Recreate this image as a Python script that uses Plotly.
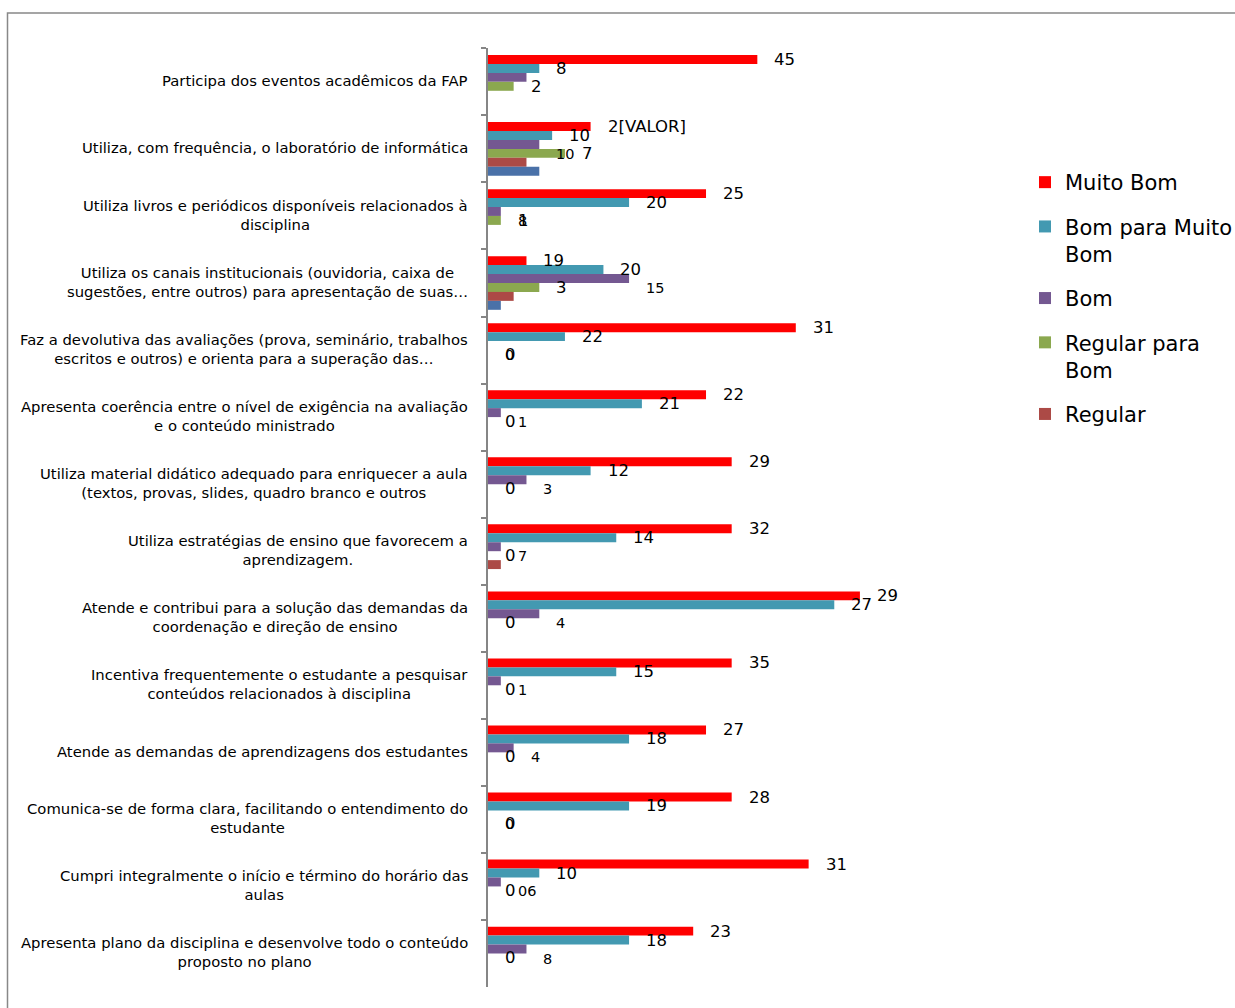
import plotly.graph_objects as go

# ---------------- data ----------------
categories = [
    "Participa dos eventos acadêmicos da FAP",
    "Utiliza, com frequência, o laboratório de informática",
    "Utiliza livros e periódicos disponíveis relacionados à<br>disciplina",
    "Utiliza os canais institucionais (ouvidoria, caixa de<br>sugestões, entre outros) para apresentação de suas…",
    "Faz a devolutiva das avaliações (prova, seminário, trabalhos<br>escritos e outros) e orienta para a superação das…",
    "Apresenta coerência entre o nível de exigência na avaliação<br>e o conteúdo ministrado",
    "Utiliza material didático adequado para enriquecer a aula<br>(textos, provas, slides, quadro branco e outros",
    "Utiliza estratégias de ensino que favorecem a<br>aprendizagem.",
    "Atende e contribui para a solução das demandas da<br>coordenação e direção de ensino",
    "Incentiva frequentemente o estudante a pesquisar<br>conteúdos relacionados à disciplina",
    "Atende as demandas de aprendizagens dos estudantes",
    "Comunica-se de forma clara, facilitando o entendimento do<br>estudante",
    "Cumpri integralmente o início e término do horário das<br>aulas",
    "Apresenta plano da disciplina e desenvolve todo o conteúdo<br>proposto no plano",
]

series_names = ["Muito Bom", "Bom para Muito<br>Bom", "Bom", "Regular para<br>Bom", "Regular", "Série 6"]
series_colors = ["#FF0000", "#4399B1", "#745891", "#8BA84F", "#AC4A46", "#4A71A8"]

muito_bom        = [21, 8, 17, 3, 24, 17, 19, 19, 29, 19, 17, 19, 25, 16]
bom_muito_bom    = [4, 5, 11, 9, 6, 12, 8, 10, 27, 10, 11, 11, 4, 11]
bom              = [3, 4, 1, 11, 0, 1, 3, 1, 4, 1, 2, 0, 1, 3]
regular_bom      = [2, 6, 1, 4, 0, 0, 0, 0, 0, 0, 0, 0, 0, 0]
regular          = [0, 3, 0, 2, 0, 0, 0, 1, 0, 0, 0, 0, 0, 0]
serie6           = [0, 4, 0, 1, 0, 0, 0, 0, 0, 0, 0, 0, 0, 0]

lbl_muito_bom     = ["45", "2[VALOR]", "25", "19", "31", "22", "29", "32", "29", "35", "27", "28", "31", "23"]
lbl_bom_muito_bom = ["8", "10", "20", "20", "22", "21", "12", "14", "27", "15", "18", "19", "10", "18"]
lbl_bom           = ["", "10", "8", "15", "0", "1", "3", "7", "4", "1", "4", "0", "06", "8"]
lbl_regular_bom   = ["2", "7", "1", "3", "0", "0", "0", "0", "0", "0", "0", "0", "0", "0"]
lbl_regular       = [""] * 14
lbl_serie6        = [""] * 14

values = [muito_bom, bom_muito_bom, bom, regular_bom, regular, serie6]
labels = [lbl_muito_bom, lbl_bom_muito_bom, lbl_bom, lbl_regular_bom, lbl_regular, lbl_serie6]

FONT = "DejaVu Sans"
BARGAP = 0.2
n_series = len(values)

fig = go.Figure()
for k in range(n_series):
    fig.add_trace(go.Bar(
        y=categories, x=values[k], orientation="h",
        name=series_names[k], marker=dict(color=series_colors[k], line=dict(width=0)),
        showlegend=(k < 5), legendgroup=f"g{k}",
    ))

# data labels (annotations placed at each bar's end)
annotations = []
slot = (1 - BARGAP) / n_series
for k in range(n_series):
    small = (k == 2)
    for i, (v, t) in enumerate(zip(values[k], labels[k])):
        if not t:
            continue
        annotations.append(dict(
            x=v, y=i - (1 - BARGAP) / 2 + slot * (k + 0.5), xref="x", yref="y",
            text=t, showarrow=False, xanchor="left", yanchor="middle",
            xshift=15, yshift=(-9.5 if small else 0),
            font=dict(family=FONT, size=(14.5 if small else 16.5), color="#000000"),
        ))

# category labels, centred lines like the original
for i, c in enumerate(categories):
    annotations.append(dict(
        x=0, y=i, xref="paper", yref="y", text=c, showarrow=False,
        xanchor="right", yanchor="middle", align="center", xshift=-18, yshift=1,
        font=dict(family=FONT, size=14.8, color="#000000"),
    ))

L, T, R, B = 488, 48, 234, 21
W, H = 1235, 1008
pw, ph = W - L - R, H - T - B

fig.update_layout(
    width=W, height=H, autosize=False,
    margin=dict(l=L, r=R, t=T, b=B, pad=0, autoexpand=False),
    paper_bgcolor="white", plot_bgcolor="white",
    barmode="group", bargap=BARGAP, bargroupgap=0,
    font=dict(family=FONT, color="#000000"),
    xaxis=dict(visible=False, range=[0, 40], fixedrange=True),
    yaxis=dict(autorange="reversed", showticklabels=False, showgrid=False, zeroline=False,
               showline=True, linecolor="#868686", linewidth=2,
               ticks="outside", ticklen=5, tickcolor="#868686", tickwidth=1.5,
               tickson="boundaries", fixedrange=True),
    legend=dict(
        x=(1025 - L) / pw, xanchor="left", y=1 - (162 - T) / ph, yanchor="top",
        font=dict(family=FONT, size=21, color="#000000"),
        valign="top", tracegroupgap=14, itemwidth=30, traceorder="grouped",
        bgcolor="rgba(0,0,0,0)",
    ),
    annotations=annotations,
    shapes=[dict(type="rect", xref="paper", yref="paper",
                 x0=(7.5 - L) / pw, x1=(1300 - L) / pw,
                 y0=-(40) / ph, y1=1 + (T - 13) / ph,
                 line=dict(color="#888888", width=1.5), layer="below")],
)

fig.write_html("out.html", config={"displayModeBar": False},
               post_script="document.body.style.margin='0';")
